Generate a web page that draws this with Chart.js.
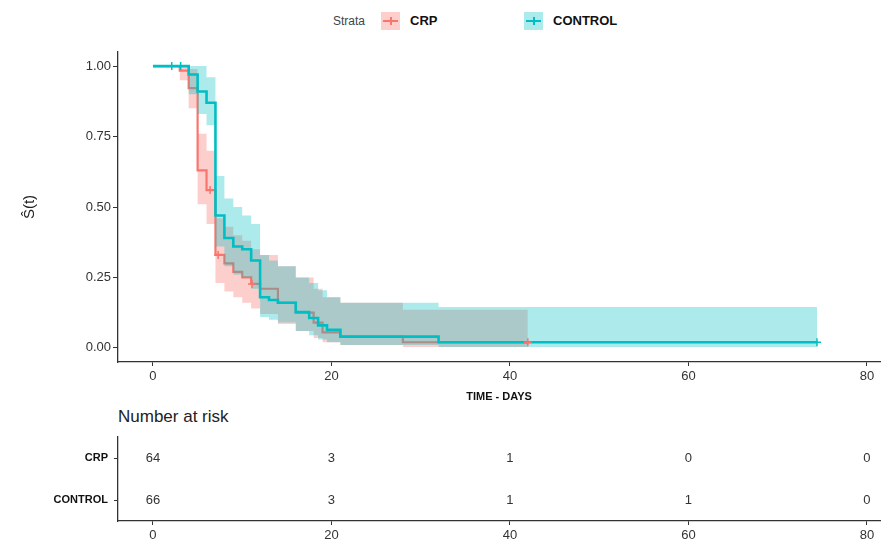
<!DOCTYPE html>
<html>
<head>
<meta charset="utf-8">
<script src="https://cdn.jsdelivr.net/npm/chart.js@4.4.1/dist/chart.umd.min.js"></script>
<style>
  body { margin: 0; background: #fff; font-family: 'Liberation Sans', Arial, sans-serif; }
  #wrap { position: relative; width: 893px; height: 541px; overflow: hidden; }
  canvas { position: absolute; left: 0; }
  .legend { position: absolute; top: 12px; height: 18px; line-height: 18px; font-size: 12px; }
  .lg-text { position: absolute; top: 12px; line-height: 18px; font-size: 13px; font-weight: bold; color: #111; }
  .lg-box { position: absolute; top: 12px; width: 19px; height: 18px; }
  .lg-box .ln { position: absolute; left: 2px; right: 2px; top: 8px; height: 2px; }
  .lg-box .tk { position: absolute; left: 9px; top: 5px; width: 1.5px; height: 8px; }
  #riskTitle { position: absolute; left: 118px; top: 407px; font-size: 17px; color: #222; }
</style>
</head>
<body>
<div id="wrap">
  <div class="legend" style="left:333px;color:#444;">Strata</div>
  <div class="lg-box" style="left:381px;background:rgba(248,118,109,0.35);"><div class="ln" style="background:#F8766D"></div><div class="tk" style="background:#F8766D"></div></div>
  <div class="lg-text" style="left:410px;">CRP</div>
  <div class="lg-box" style="left:524px;background:rgba(0,191,196,0.32);"><div class="ln" style="background:#00BFC4"></div><div class="tk" style="background:#00BFC4"></div></div>
  <div class="lg-text" style="left:553px;">CONTROL</div>

  <canvas id="km" width="893" height="405" style="top:0"></canvas>
  <div id="riskTitle">Number at risk</div>
  <canvas id="risk" width="893" height="136" style="top:405px"></canvas>
</div>

<script>
// --- data ---
const xTicks = [0, 20, 40, 60, 80];
const yTicks = [0, 0.25, 0.5, 0.75, 1];

const crpTime  = [0, 3, 4, 5, 6, 7, 8, 9, 10, 11, 12, 14, 16, 18, 19, 21, 28, 42];
const crpSurv  = [1, 0.984, 0.922, 0.63, 0.56, 0.33, 0.30, 0.27, 0.25, 0.227, 0.21, 0.16, 0.125, 0.09, 0.055, 0.04, 0.02, 0.02];
const crpUpper = [1, 1, 0.99, 0.76, 0.70, 0.46, 0.43, 0.40, 0.38, 0.35, 0.33, 0.29, 0.25, 0.21, 0.18, 0.16, 0.135, 0.135];
const crpLower = [1, 0.95, 0.85, 0.51, 0.44, 0.23, 0.20, 0.18, 0.16, 0.14, 0.12, 0.085, 0.06, 0.035, 0.02, 0.01, 0.003, 0.003];
const crpCensorTime = [6.4, 7.3, 11.1, 42];
const crpCensorSurv = [0.56, 0.33, 0.227, 0.02];

const ctlTime  = [0, 4, 5, 6, 7, 8, 9, 10, 11, 12, 13, 14, 16, 17.5, 18.5, 19.5, 21, 32, 74.4];
const ctlSurv  = [1, 0.97, 0.91, 0.87, 0.47, 0.39, 0.36, 0.35, 0.31, 0.18, 0.17, 0.16, 0.127, 0.106, 0.08, 0.064, 0.04, 0.02, 0.02];
const ctlUpper = [1, 1, 1, 0.96, 0.61, 0.53, 0.50, 0.47, 0.44, 0.33, 0.31, 0.29, 0.25, 0.23, 0.205, 0.18, 0.16, 0.145, 0.145];
const ctlLower = [1, 0.90, 0.83, 0.79, 0.36, 0.29, 0.26, 0.25, 0.21, 0.11, 0.10, 0.09, 0.06, 0.045, 0.03, 0.02, 0.01, 0.003, 0.003];
const ctlCensorTime = [2.1, 3.1, 74.4];
const ctlCensorSurv = [1, 1, 0.02];

const strata = ['CRP', 'CONTROL'];
const riskTimes = [0, 20, 40, 60, 80];
const crpRisk = [64, 3, 1, 0, 0];
const ctlRisk = [66, 3, 1, 1, 0];

const RED = '#F8766D', TEAL = '#00BFC4';
const axisCol = '#333';
const tickFont = { family: "'Liberation Sans', Arial, sans-serif", size: 13 };

function pts(xs, ys) { return xs.map((x, i) => ({ x: x, y: ys[i] })); }

function stepSet(data, opts) {
    return Object.assign({
        data: data, stepped: true, pointRadius: 0, pointHoverRadius: 0,
        borderWidth: 0, fill: false, tension: 0
    }, opts);
}

const xAxisBase = {
    type: 'linear', min: -3.92, max: 81.46,
    afterBuildTicks: s => { s.ticks = xTicks.map(v => ({ value: v })); },
    grid: { display: true, drawOnChartArea: false, drawTicks: true, tickLength: 4, color: axisCol },
    border: { display: true, color: axisCol, width: 1.3 },
    ticks: { font: tickFont, color: '#333', padding: 3, maxRotation: 0 }
};

// --- main KM chart ---
new Chart(document.getElementById('km'), {
    type: 'line',
    data: {
        datasets: [
            stepSet(pts(crpTime, crpUpper), { order: 6 }),
            stepSet(pts(crpTime, crpLower), { order: 5, fill: '-1', backgroundColor: 'rgba(248,118,109,0.35)' }),
            stepSet(pts(crpTime, crpSurv), { order: 4, borderColor: RED, borderWidth: 2.2 }),
            stepSet(pts(ctlTime, ctlUpper), { order: 3 }),
            stepSet(pts(ctlTime, ctlLower), { order: 2, fill: '-1', backgroundColor: 'rgba(0,191,196,0.32)' }),
            stepSet(pts(ctlTime, ctlSurv), { order: 1, borderColor: TEAL, borderWidth: 2.6 }),
            { type: 'scatter', order: 0, data: pts(crpCensorTime, crpCensorSurv), pointStyle: 'cross',
              pointRadius: 4, borderColor: RED, borderWidth: 1.5, showLine: false },
            { type: 'scatter', order: 0, data: pts(ctlCensorTime, ctlCensorSurv), pointStyle: 'cross',
              pointRadius: 4, borderColor: TEAL, borderWidth: 1.5, showLine: false }
        ]
    },
    options: {
        responsive: false, animation: false, events: [],
        layout: { padding: { top: 52, right: 13, left: 0, bottom: 0 } },
        plugins: { legend: { display: false }, tooltip: { enabled: false } },
        scales: {
            x: Object.assign({}, xAxisBase, {
                afterFit: s => { s.height = 43; },
                title: { display: true, text: 'TIME - DAYS', color: '#111', padding: { top: 6, bottom: 1 },
                         font: { family: "'Liberation Sans', Arial, sans-serif", size: 11, weight: 'bold' } }
            }),
            y: {
                type: 'linear', min: -0.05, max: 1.05,
                afterBuildTicks: s => { s.ticks = yTicks.map(v => ({ value: v })); },
                afterFit: s => { s.width = 118; },
                grid: { display: true, drawOnChartArea: false, drawTicks: true, tickLength: 5, color: axisCol },
                border: { display: true, color: axisCol, width: 1.3 },
                ticks: { font: tickFont, color: '#333', padding: 2, callback: v => v.toFixed(2) },
                title: { display: true, text: 'Ŝ(t)', color: '#222', padding: { top: 21, bottom: 0 },
                         font: { family: "'Liberation Sans', Arial, sans-serif", size: 15 } }
            }
        }
    }
});

// --- number at risk table ---
const riskText = {
    id: 'riskText',
    afterDatasetsDraw(chart) {
        const ctx = chart.ctx, xs = chart.scales.x, ys = chart.scales.y;
        ctx.save();
        ctx.font = "13px 'Liberation Sans Narrow', 'Liberation Sans', Arial, sans-serif";
        ctx.fillStyle = '#333';
        ctx.textAlign = 'center';
        ctx.textBaseline = 'middle';
        [crpRisk, ctlRisk].forEach((row, i) => {
            row.forEach((n, j) => {
                ctx.fillText(String(n), xs.getPixelForValue(riskTimes[j]), ys.getPixelForValue(i));
            });
        });
        ctx.restore();
    }
};

new Chart(document.getElementById('risk'), {
    type: 'line',
    data: { datasets: [] },
    plugins: [riskText],
    options: {
        responsive: false, animation: false, events: [],
        layout: { padding: { top: 32, right: 13, left: 0, bottom: 0 } },
        plugins: { legend: { display: false }, tooltip: { enabled: false } },
        scales: {
            x: Object.assign({}, xAxisBase, { afterFit: s => { s.height = 20; } }),
            y: {
                type: 'category', labels: strata, offset: true,
                afterFit: s => { s.width = 118; },
                grid: { display: true, drawOnChartArea: false, drawTicks: true, tickLength: 4, color: axisCol, offset: false },
                border: { display: true, color: axisCol, width: 1.3 },
                ticks: { color: '#111', padding: 6,
                         font: { family: "'Liberation Sans', Arial, sans-serif", size: 11, weight: 'bold' } }
            }
        }
    }
});
</script>
</body>
</html>
